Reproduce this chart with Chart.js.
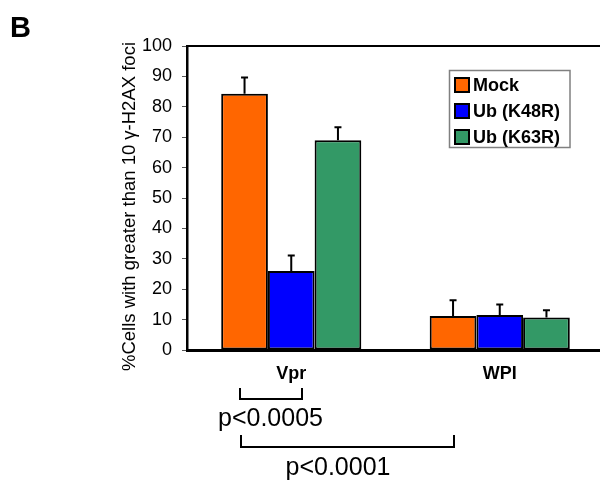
<!DOCTYPE html>
<html>
<head>
<meta charset="utf-8">
<script src="https://cdn.jsdelivr.net/npm/chart.js@4.4.1/dist/chart.umd.min.js"></script>
<style>
  html, body { margin: 0; padding: 0; background: #fff; overflow: hidden; }
  #wrap { width: 620px; height: 483px; }
</style>
</head>
<body>
<div id="wrap"><canvas id="grafico" width="620" height="483"></canvas></div>
<script>
// datos
const categorias = ['Vpr', 'WPI'];
const series = ['Mock', 'Ub (K48R)', 'Ub (K63R)'];
const mock = [84.3, 11.2];
const ubK48R = [26.0, 11.5];
const ubK63R = [69.0, 10.7];
const errMock = [5.3, 5.2];
const errK48R = [5.1, 3.5];
const errK63R = [4.3, 2.4];
const yTicks = [0, 10, 20, 30, 40, 50, 60, 70, 80, 90, 100];
const tituloY = '%Cells with greater than 10 \u03b3-H2AX foci';

const colores = ['#ff6600', '#0000ff', '#339966'];
const fuente = '"Liberation Sans", Arial, Helvetica, sans-serif';

// barras de error (solo hacia arriba, con tope)
const errorBars = {
  id: 'errorBars',
  afterDatasetsDraw(chart) {
    const ctx = chart.ctx;
    const y = chart.scales.y;
    ctx.save();
    ctx.strokeStyle = '#000';
    ctx.lineWidth = 2;
    chart.data.datasets.forEach((ds, i) => {
      const meta = chart.getDatasetMeta(i);
      meta.data.forEach((bar, j) => {
        const top = y.getPixelForValue(ds.data[j] + ds.errores[j]);
        ctx.beginPath();
        ctx.moveTo(bar.x, bar.y);
        ctx.lineTo(bar.x, top);
        ctx.moveTo(bar.x - 3.5, top);
        ctx.lineTo(bar.x + 3.5, top);
        ctx.stroke();
      });
    });
    ctx.restore();
  }
};

// textos extra, leyenda, marco superior y corchetes de p
const extras = {
  id: 'extras',
  afterDraw(chart) {
    const ctx = chart.ctx;
    const area = chart.chartArea;
    ctx.save();

    // linea superior del marco
    ctx.strokeStyle = '#000';
    ctx.lineWidth = 2;
    ctx.beginPath();
    ctx.moveTo(area.left, area.top);
    ctx.lineTo(chart.width, area.top);
    ctx.stroke();

    // letra del panel
    ctx.fillStyle = '#000';
    ctx.font = 'bold 29px ' + fuente;
    ctx.textAlign = 'left';
    ctx.textBaseline = 'alphabetic';
    ctx.fillText('B', 10, 37);

    // titulo del eje y
    ctx.save();
    ctx.translate(130, 206.5);
    ctx.rotate(-Math.PI / 2);
    ctx.font = '18.5px ' + fuente;
    ctx.textAlign = 'center';
    ctx.textBaseline = 'middle';
    ctx.fillText(tituloY, 0, 0);
    ctx.restore();

    // leyenda
    ctx.strokeStyle = '#808080';
    ctx.lineWidth = 1.5;
    ctx.strokeRect(449.5, 70.5, 120.5, 77);
    ctx.font = 'bold 18px ' + fuente;
    ctx.textAlign = 'left';
    ctx.textBaseline = 'middle';
    chart.data.datasets.forEach((ds, i) => {
      const cy = 85 + i * 26;
      ctx.fillStyle = ds.backgroundColor;
      ctx.fillRect(455, cy - 7, 14, 14);
      ctx.strokeStyle = '#000';
      ctx.lineWidth = 2;
      ctx.strokeRect(455, cy - 7, 14, 14);
      ctx.fillStyle = '#000';
      ctx.fillText(ds.label, 473, cy + 1);
    });

    // corchetes de significancia
    ctx.strokeStyle = '#000';
    ctx.lineWidth = 2;
    ctx.beginPath();
    ctx.moveTo(240, 388); ctx.lineTo(240, 399); ctx.lineTo(302, 399); ctx.lineTo(302, 388);
    ctx.moveTo(241, 435); ctx.lineTo(241, 447); ctx.lineTo(454, 447); ctx.lineTo(454, 435);
    ctx.stroke();

    ctx.font = '25px ' + fuente;
    ctx.textAlign = 'center';
    ctx.textBaseline = 'alphabetic';
    ctx.fillText('p<0.0005', 270.5, 426);
    ctx.fillText('p<0.0001', 338, 475);

    ctx.restore();
  }
};

const mkSerie = (label, data, errores, color) => ({
  label: label,
  data: data,
  errores: errores,
  backgroundColor: color,
  borderColor: '#000',
  borderWidth: 2,
  borderSkipped: false,
  barPercentage: 1,
  categoryPercentage: 0.672
});

new Chart(document.getElementById('grafico').getContext('2d'), {
  type: 'bar',
  data: {
    labels: categorias,
    datasets: [
      mkSerie(series[0], mock, errMock, colores[0]),
      mkSerie(series[1], ubK48R, errK48R, colores[1]),
      mkSerie(series[2], ubK63R, errK63R, colores[2])
    ]
  },
  options: {
    responsive: false,
    animation: false,
    layout: { padding: { top: 46, right: 16, left: 0, bottom: 0 } },
    scales: {
      x: {
        afterFit: (s) => { s.height = 133; },
        grid: { display: false, drawTicks: false },
        border: { display: true, color: '#000', width: 3 },
        ticks: {
          color: '#000',
          padding: 13,
          font: { family: fuente, size: 18, weight: 'bold' }
        }
      },
      y: {
        min: 0,
        max: 100,
        afterFit: (s) => { s.width = 187; },
        afterBuildTicks: (s) => { s.ticks = yTicks.map(v => ({ value: v })); },
        grid: { drawOnChartArea: false, drawTicks: true, tickLength: 5, color: '#555', lineWidth: 1 },
        border: { display: true, color: '#000', width: 2.5 },
        ticks: {
          color: '#000',
          padding: 10,
          font: { family: fuente, size: 18 }
        }
      }
    },
    plugins: {
      legend: { display: false },
      tooltip: { enabled: false }
    }
  },
  plugins: [errorBars, extras]
});
</script>
</body>
</html>
